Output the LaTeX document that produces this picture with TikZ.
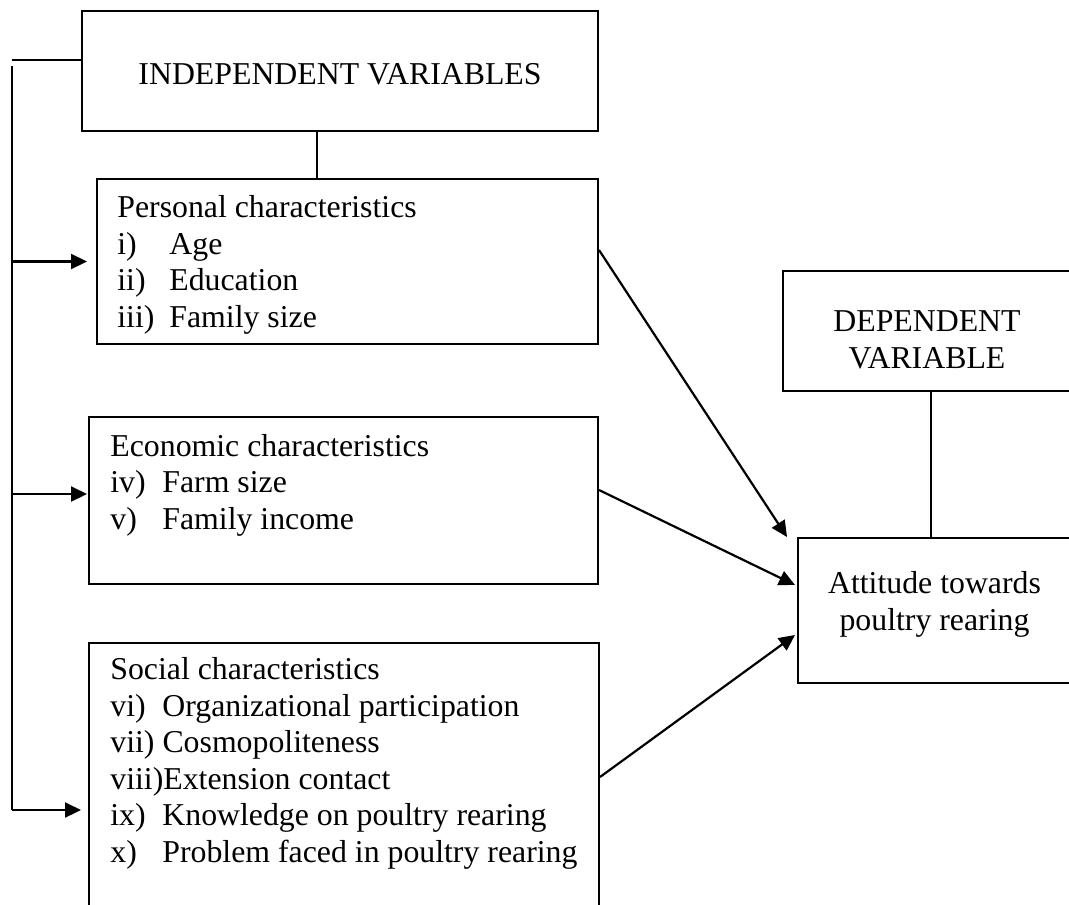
\documentclass[tikz,border=0pt]{standalone}
\usepackage{fontspec}
\setmainfont{Liberation Serif}
\usetikzlibrary{arrows.meta, positioning, calc}
\tikzset{
  box/.style={rectangle, draw=black, line width=1pt, inner sep=0pt,
    anchor=north west},
  headtext/.style={font=\fontsize{15.9}{18.25}\selectfont, align=center,
    inner sep=0pt, anchor=base},
  listtext/.style={font=\fontsize{15.9}{18.25}\selectfont, align=left,
    inner sep=0pt, anchor=base west},
  arrow/.style={-{Triangle[length=8pt, width=7.5pt]}, line width=1.1pt},
  line/.style={line width=1pt}
}
\newcommand{\itm}[2]{\makebox[26pt][l]{#1}#2}

\begin{document}
\begin{tikzpicture}[x=0.5pt, y=-0.5pt]
  \useasboundingbox (0,0) rectangle (1069,904);
  \clip (0,0) rectangle (1069,904);

  % Boxes
  \node[box, minimum width=258pt, minimum height=60pt] (iv) at (81,10) {};
  \node[box, minimum width=250.5pt, minimum height=82.5pt] (pers) at (96,178) {};
  \node[box, minimum width=254.5pt, minimum height=83.5pt] (econ) at (88,416) {};
  \node[box, minimum width=255pt, minimum height=134pt] (soc) at (88,642) {};
  \node[box, minimum width=144pt, minimum height=60pt] (dv) at (782,270) {};
  \node[box, minimum width=136.5pt, minimum height=72.5pt] (att) at (797,537) {};

  % Texts (anchored at the last line)
  \node[headtext] (ivtext) at ([shift={(0,74)}]iv.north) {INDEPENDENT VARIABLES};
  \node[listtext] (perstext) at ([shift={(21,149)}]pers.north west)
    {Personal characteristics\\ \itm{i)}{Age}\\ \itm{ii)}{Education}\\
     \itm{iii)}{Family size}};
  \node[listtext] (econtext) at ([shift={(22,113)}]econ.north west)
    {Economic characteristics\\ \itm{iv)}{Farm size}\\ \itm{v)}{Family income}};
  \node[listtext] (soctext) at ([shift={(22,220)}]soc.north west)
    {Social characteristics\\ \itm{vi)}{Organizational participation}\\
     vii) Cosmopoliteness\\ viii)Extension contact\\
     \itm{ix)}{Knowledge on poultry rearing}\\
     \itm{x)}{Problem faced in poultry rearing}};
  \node[headtext] (dvtext) at ([shift={(0,98)}]dv.north) {DEPENDENT\\VARIABLE};
  \node[headtext] (atttext) at ([shift={(0,93)}]att.north)
    {Attitude towards\\poultry rearing};

  % Left bus
  \coordinate (bustop) at (12,60);
  \coordinate (busbot) at (12,810);
  \coordinate (econin) at ([yshift=3.25pt]econ.west);
  \draw[line] (bustop -| iv.west) -- (bustop);
  \draw[line] ([yshift=-3pt]bustop) -- (busbot);
  \draw[arrow, shorten >=4.5pt] (busbot |- pers.west) -- (pers.west);
  \draw[arrow, shorten >=0.5pt] (busbot |- econin) -- (econin);
  \draw[arrow, shorten >=3.5pt] (busbot) -- (busbot -| soc.west);

  % Links
  \coordinate (ivlink) at ([xshift=-11.5pt]iv.south);
  \coordinate (dvlink) at ([xshift=2pt]dv.south);
  \draw[line] (ivlink) -- (ivlink |- pers.north);
  \draw[line] (dvlink) -- (dvlink |- att.north);

  % Paths to the dependent variable
  \draw[arrow] ([shift={(0,72)}]pers.north east) -- ([shift={(-10,0)}]att.north west);
  \draw[arrow] ([shift={(0,74)}]econ.north east) -- ([shift={(-2,48)}]att.north west);
  \draw[arrow] (soc.east) -- ([shift={(-2,98)}]att.north west);
\end{tikzpicture}
\end{document}
